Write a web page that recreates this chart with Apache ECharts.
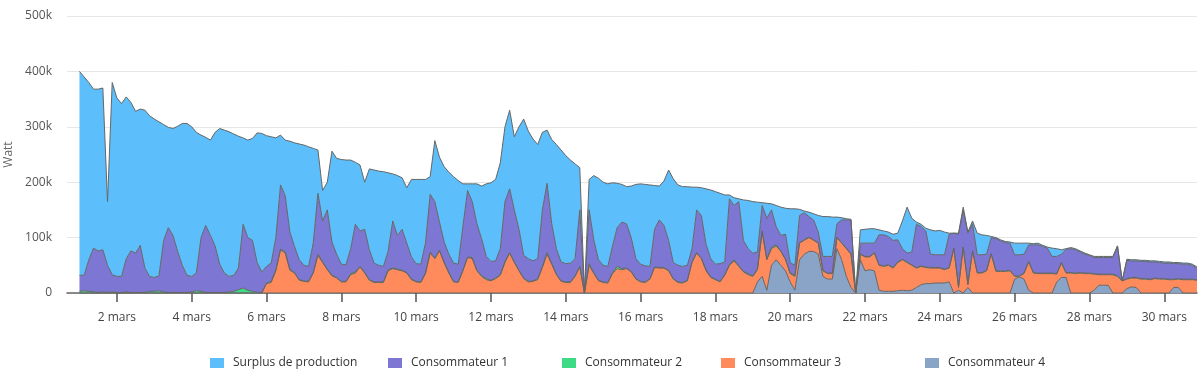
<!DOCTYPE html>
<html>
<head>
<meta charset="utf-8">
<script src="https://cdn.jsdelivr.net/npm/echarts@6/dist/echarts.min.js"></script>
<style>
  html, body { margin: 0; padding: 0; background: #fff; }
  #chart { width: 1200px; height: 376px; }
</style>
</head>
<body>
<div id="chart"></div>
<script>
const HOUR = 3600 * 1000
const start = Date.UTC(2023, 2, 1) // 1 mars 00:00

// one point every 3 hours, 1 mars 00:00 -> 30 mars 21:00
const times = Array.from({ length: 240 }, (_, i) => start + i * 3 * HOUR)

// x ticks : 2 mars ... 30 mars
const tickDays = [2, 4, 6, 8, 10, 12, 14, 16, 18, 20, 22, 24, 26, 28, 30]
const tickTimes = tickDays.map(d => Date.UTC(2023, 2, d))

// values in kW (k)
const surplus = [
  368, 358, 320, 287, 292, 292, 115, 347,
  322, 312, 292, 268, 256, 246, 285, 290,
  286, 278, 209, 181, 193, 226, 256, 274,
  270, 254, 185, 159, 172, 205, 245, 258,
  261, 255, 238, 156, 176, 184, 234, 250,
  236, 228, 180, 90, 100, 164, 187, 209,
  217, 216, 171, 78, 55, 50, 164, 173,
  189, 189, 160, 112, 119, 85, 146, 168,
  170, 171, 142, 85, 108, 93, 100, 140,
  152, 153, 115, 32, 110, 117, 136, 148,
  156, 151, 77, 12, 32, 72, 95, 131,
  142, 147, 155, 135, 142, 132, 185, 246,
  230, 220, 206, 140, 96, 152, 188, 202,
  195, 186, 171, 76, 0, 55, 116, 147,
  150, 149, 114, 80, 68, 67, 93, 134,
  145, 147, 147, 79, 61, 80, 127, 151,
  145, 144, 142, 111, 41, 50, 100, 124,
  131, 127, 121, 7, 14, 5, 73, 87,
  93, 90, 5, 27, 11, 38, 51, 47,
  97, 102, 11, 3, 8, 11, 30, 72,
  72, 71, 12, 4, 2, 1, 0, 24,
  25, 26, 26, 9, 7, 8, 11, 12,
  50, 83, 61, 4, 4, 5, 44, 43,
  44, 41, 2, 0, 2, 5, 2, 5,
  39, 36, 34, 2, 2, 2, 2, 2,
  21, 21, 20, 3, 2, 3, 2, 2,
  15, 14, 8, 1, 2, 2, 2, 2,
  1, 2, 2, 2, 2, 2, 0, 0,
  2, 2, 2, 2, 2, 2, 2, 2,
  2, 2, 2, 2, 2, 2, 2, 2
]
const conso1 = [
  29, 28, 57, 79, 75, 76, 49, 31,
  29, 29, 60, 75, 71, 85, 44, 27,
  25, 27, 93, 117, 103, 74, 49, 31,
  28, 32, 97, 121, 103, 84, 51, 35,
  28, 29, 39, 115, 95, 92, 54, 37,
  30, 33, 58, 116, 102, 67, 47, 36,
  28, 27, 53, 110, 74, 107, 60, 42,
  31, 30, 45, 86, 64, 78, 54, 34,
  30, 28, 33, 85, 61, 74, 53, 40,
  32, 32, 54, 104, 102, 51, 36, 33,
  33, 32, 79, 120, 101, 84, 67, 40,
  34, 31, 47, 108, 115, 94, 74, 41,
  41, 36, 36, 102, 125, 72, 46, 34,
  33, 34, 31, 102, 0, 97, 59, 37,
  30, 29, 48, 70, 84, 80, 61, 36,
  31, 29, 22, 68, 86, 76, 54, 29,
  30, 29, 27, 24, 77, 77, 46, 33,
  27, 32, 23, 119, 98, 116, 56, 45,
  41, 30, 46, 74, 67, 33, 28, 45,
  19, 18, 49, 49, 37, 36, 19, 25,
  30, 30, 24, 41, 51, 61, 0, 19,
  24, 24, 17, 54, 56, 51, 49, 40,
  19, 16, 23, 78, 71, 65, 24, 23,
  23, 26, 60, 27, 95, 67, 92, 49,
  32, 32, 29, 29, 58, 54, 51, 49,
  38, 38, 34, 30, 50, 51, 48, 45,
  30, 31, 15, 42, 43, 42, 37, 34,
  32, 29, 30, 30, 30, 30, 54, 0,
  33, 30, 30, 31, 31, 31, 29, 29,
  28, 29, 28, 27, 27, 27, 25, 21
]
const conso2 = [
  3, 4, 3, 2, 1, 2, 1, 2,
  1, 1, 2, 1, 1, 1, 1, 3,
  3, 4, 2, 1, 1, 1, 1, 1,
  2, 4, 3, 1, 1, 1, 1, 1,
  2, 3, 6, 9, 5, 3, 1, 1,
  1, 2, 2, 1, 2, 2, 1, 1,
  1, 1, 1, 2, 1, 1, 1, 1,
  1, 1, 2, 2, 1, 1, 1, 1,
  1, 1, 2, 1, 1, 1, 1, 1,
  1, 1, 1, 2, 1, 1, 2, 1,
  1, 1, 1, 1, 2, 1, 1, 2,
  1, 1, 1, 2, 1, 1, 1, 1,
  1, 1, 2, 2, 3, 1, 1, 1,
  1, 1, 1, 1, 0, 3, 2, 1,
  1, 1, 2, 4, 2, 1, 1, 1,
  1, 1, 1, 1, 1, 1, 1, 1,
  1, 1, 1, 1, 1, 1, 2, 1,
  1, 1, 1, 1, 2, 1, 1, 2,
  1, 2, 2, 1, 3, 2, 1, 1,
  1, 2, 1, 1, 1, 1, 1, 1,
  1, 1, 1, 1, 1, 1, 0, 1,
  1, 1, 1, 1, 1, 1, 1, 1,
  1, 1, 1, 1, 1, 1, 1, 1,
  1, 1, 1, 1, 1, 1, 1, 1,
  1, 1, 1, 1, 1, 1, 1, 1,
  1, 1, 1, 1, 1, 1, 1, 1,
  1, 1, 1, 1, 1, 1, 1, 1,
  1, 1, 1, 1, 1, 1, 1, 0,
  1, 1, 1, 1, 1, 1, 1, 1,
  1, 1, 1, 1, 1, 1, 1, 1
]
const conso3 = [
  0, 0, 0, 0, 0, 0, 0, 0,
  0, 0, 0, 0, 0, 0, 0, 0,
  0, 0, 0, 0, 0, 0, 0, 0,
  0, 0, 0, 0, 0, 0, 0, 0,
  0, 0, 0, 0, 0, 0, 0, 0,
  17, 19, 40, 78, 72, 41, 36, 23,
  21, 20, 36, 68, 55, 42, 31, 27,
  20, 20, 33, 36, 47, 36, 23, 19,
  19, 19, 40, 44, 42, 40, 36, 24,
  20, 19, 35, 72, 62, 76, 54, 36,
  20, 19, 40, 64, 62, 40, 30, 24,
  22, 26, 32, 55, 72, 55, 40, 26,
  20, 21, 24, 46, 70, 52, 33, 21,
  19, 19, 30, 47, 0, 50, 35, 22,
  19, 18, 35, 44, 42, 44, 38, 25,
  20, 19, 25, 46, 45, 45, 40, 25,
  19, 18, 22, 55, 72, 62, 40, 28,
  24, 20, 32, 50, 58, 48, 38, 33,
  30, 22, 80, 55, 30, 25, 25, 20,
  15, 25, 30, 25, 25, 20, 20, 10,
  10, 10, 20, 30, 50, 60, 0, 10,
  25, 23, 32, 45, 45, 47, 42, 51,
  55, 51, 45, 35, 33, 29, 28, 27,
  27, 24, 25, 80, 5, 82, 5, 75,
  36, 36, 40, 70, 39, 39, 39, 40,
  5, 1, 10, 51, 36, 35, 35, 35,
  35, 14, 26, 8, 36, 35, 36, 35,
  35, 29, 19, 19, 19, 33, 30, 22,
  17, 16, 17, 25, 25, 24, 26, 25,
  25, 24, 14, 15, 24, 24, 24, 23
]
const conso4 = [
  0, 0, 0, 0, 0, 0, 0, 0,
  0, 0, 0, 0, 0, 0, 0, 0,
  0, 0, 0, 0, 0, 0, 0, 0,
  0, 0, 0, 0, 0, 0, 0, 0,
  0, 0, 0, 0, 0, 0, 0, 0,
  0, 0, 0, 0, 0, 0, 0, 0,
  0, 0, 0, 0, 0, 0, 0, 0,
  0, 0, 0, 0, 0, 0, 0, 0,
  0, 0, 0, 0, 0, 0, 0, 0,
  0, 0, 0, 0, 0, 0, 0, 0,
  0, 0, 0, 0, 0, 0, 0, 0,
  0, 0, 0, 0, 0, 0, 0, 0,
  0, 0, 0, 0, 0, 0, 0, 0,
  0, 0, 0, 0, 0, 0, 0, 0,
  0, 0, 0, 0, 0, 0, 0, 0,
  0, 0, 0, 0, 0, 0, 0, 0,
  0, 0, 0, 0, 0, 0, 0, 0,
  0, 0, 0, 0, 0, 0, 0, 0,
  0, 20, 30, 5, 50, 60, 50, 40,
  20, 5, 60, 70, 75, 75, 70, 30,
  25, 25, 80, 60, 30, 10, 0, 60,
  40, 42, 40, 5, 3, 3, 3, 4,
  5, 4, 5, 10, 15, 17, 17, 18,
  18, 18, 20, 0, 5, 0, 10, 0,
  0, 0, 0, 0, 0, 0, 0, 0,
  25, 29, 25, 5, 0, 0, 0, 0,
  0, 20, 28, 28, 0, 0, 0, 0,
  0, 5, 14, 14, 14, 0, 0, 0,
  8, 11, 10, 0, 0, 0, 0, 0,
  0, 0, 10, 10, 0, 0, 0, 0
]

const names = ["Surplus de production", "Consommateur 1", "Consommateur 2", "Consommateur 3", "Consommateur 4"]
const colors = ["#5cbefa", "#7d76d2", "#3ddc84", "#ff8a5c", "#8aa4c8"]
const legendLeft = [205, 383, 557, 716, 920]

const font = '"Open Sans", sans-serif'

const xMin = start - 8 * HOUR
const xMax = times[times.length - 1]

const pairs = arr => arr.map((v, i) => [times[i], v])

// bottom of the stack first
const stackOrder = [
	{ name: names[4], data: conso4, color: colors[4] },
	{ name: names[3], data: conso3, color: colors[3] },
	{ name: names[2], data: conso2, color: colors[2] },
	{ name: names[1], data: conso1, color: colors[1] },
	{ name: names[0], data: surplus, color: colors[0] }
]

const option = {
	animation: false,
	grid: {
		left: 67,
		right: 3,
		top: 16,
		bottom: 83,
		containLabel: false,
		outerBoundsMode: "none"
	},
	legend: names.map((n, i) => ({
		data: [n],
		left: legendLeft[i],
		top: 352,
		icon: "rect",
		itemWidth: 14,
		itemHeight: 10,
		textStyle: { fontFamily: font, fontSize: 12, color: "#333", padding: [0, 0, 0, 4] }
	})),
	xAxis: [
		{
			// data axis
			type: "time",
			min: xMin,
			max: xMax,
			splitLine: { show: false },
			axisLine: { lineStyle: { color: "#666", width: 1.5 } },
			axisTick: { show: false },
			axisLabel: { show: false }
		},
		{
			// tick / label axis, same range
			type: "value",
			position: "bottom",
			min: xMin,
			max: xMax,
			splitLine: { show: false },
			axisLine: { show: false },
			axisTick: {
				show: true,
				customValues: tickTimes,
				length: 9,
				lineStyle: { color: "#555", width: 1.5 }
			},
			axisLabel: {
				customValues: tickTimes,
				margin: 19,
				fontFamily: font,
				fontSize: 12,
				color: "#444",
				formatter: v => new Date(v).getUTCDate() + " mars"
			}
		}
	],
	yAxis: {
		type: "value",
		min: 0,
		max: 500,
		interval: 100,
		name: "Watt",
		nameLocation: "middle",
		nameGap: 52,
		nameTextStyle: { fontFamily: font, fontSize: 12, color: "#666" },
		axisLine: { show: false },
		axisTick: { show: false },
		axisLabel: {
			margin: 15,
			fontFamily: font,
			fontSize: 12,
			color: "#555",
			formatter: v => (v === 0 ? "0" : v + "k")
		},
		splitLine: { lineStyle: { color: "#e6e6e6", width: 1 } }
	},
	series: stackOrder.map(s => ({
		name: s.name,
		type: "line",
		stack: "total",
		xAxisIndex: 0,
		data: pairs(s.data),
		color: s.color,
		showSymbol: false,
		symbol: "none",
		lineStyle: { color: "#666", width: 1 },
		areaStyle: { color: s.color, opacity: 1 }
	}))
}

const chart = echarts.init(document.getElementById("chart"))
chart.setOption(option)
</script>
</body>
</html>
